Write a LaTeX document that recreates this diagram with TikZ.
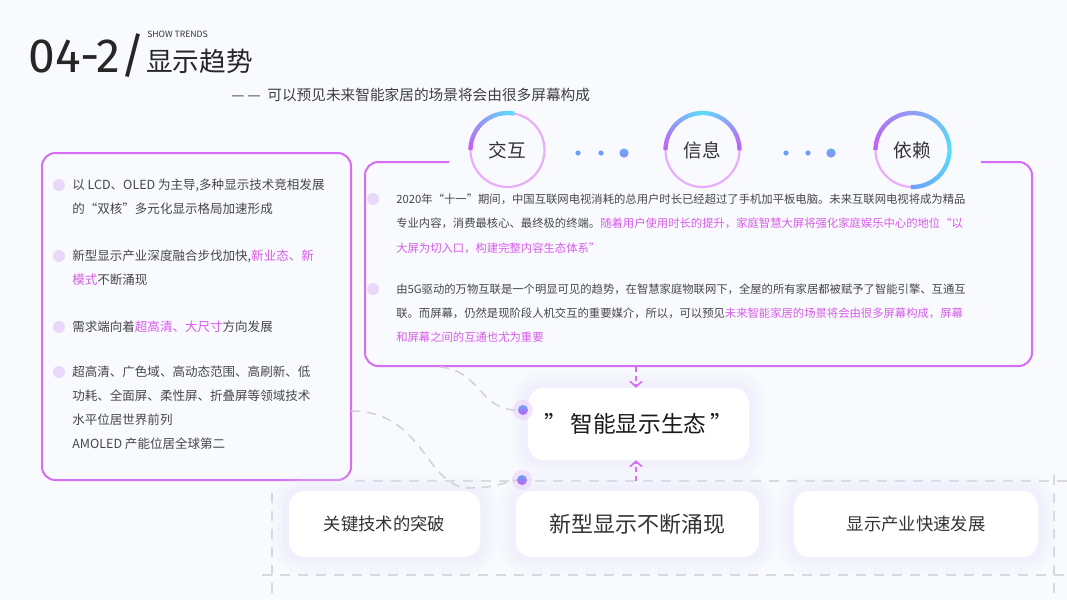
\documentclass[tikz,border=0pt]{standalone}
\usepackage{fontspec}
\setmainfont{Noto Sans CJK SC}
\newfontfamily\numfont{Fira Sans}
\usetikzlibrary{arrows.meta,calc,positioning}

\definecolor{bgc}{RGB}{249,250,254}
\definecolor{linec}{RGB}{214,110,245}
\definecolor{txtc}{RGB}{70,70,76}
\definecolor{hlc}{RGB}{214,92,232}
\definecolor{dotc}{RGB}{234,216,250}
\definecolor{dashc}{RGB}{216,217,224}
\definecolor{linkc}{RGB}{208,208,213}
\definecolor{ringbase}{RGB}{232,172,250}
\definecolor{ringp}{RGB}{196,96,240}
\definecolor{ringc}{RGB}{88,222,250}
\definecolor{ringb}{RGB}{108,160,248}
\definecolor{glowc}{RGB}{228,233,252}
\newcommand{\hlt}[1]{\textcolor{hlc}{#1}}

\tikzset{
  txt/.style={anchor=west,inner sep=0pt,text=txtc,font=\fontsize{9.4}{11}\selectfont},
  rtxt/.style={txt,font=\fontsize{8.5}{10}\selectfont},
  bullet/.style={circle,fill=dotc,minimum size=9pt,inner sep=0pt},
  card/.style={rounded corners=12pt,fill=white,inner sep=0pt,text=black!80,
    preaction={draw=glowc,line width=26pt,opacity=0.12},
    preaction={draw=glowc,line width=18pt,opacity=0.15},
    preaction={draw=glowc,line width=10pt,opacity=0.2}},
  frame/.style={draw=linec,line width=1.5pt,rounded corners=10pt},
  griddash/.style={draw=dashc,line width=1.2pt,dash pattern=on 7.5pt off 6pt},
  link/.style={draw=linkc,line width=1.1pt,dash pattern=on 7pt off 5pt},
  flow/.style={draw=linec,line width=1.2pt,dash pattern=on 4pt off 2.5pt,
    -{Straight Barb[length=4pt,width=9pt]}},
  ring/.style={circle,draw=ringbase,line width=1.6pt,fill=bgc,minimum size=55.5pt,
    inner sep=0pt,text=black!80,font=\fontsize{14}{16}\selectfont},
  glowdot/.style={circle,minimum size=7.5pt,inner sep=0pt,top color=ringb,bottom color=ringp,
    preaction={draw=ringp!35,line width=8pt,opacity=0.45}},
}

\begin{document}
\begin{tikzpicture}[x=0.75pt,y=-0.75pt,line join=round]
\useasboundingbox (0,0) rectangle (1067,600);
\fill[bgc] (0,0) rectangle (1067,600);

% heading
\node[anchor=base west,inner sep=0pt,text=black!85,font=\numfont\fontsize{36}{40}\selectfont] (num) at (28,72) {04-2/};
\node[anchor=west,inner sep=0pt,text=black!80,font=\fontsize{6.5}{8}\selectfont] (en) at (147,34) {SHOW TRENDS};
\node[anchor=west,inner sep=0pt,text=black!85,font=\fontsize{20}{22}\selectfont] (ttl) at (146,61) {显示趋势};
\node[anchor=west,inner sep=0pt,text=black!75,font=\fontsize{11}{13}\selectfont] (sub) at (231,95) {— —\ \ 可以预见未来智能家居的场景将会由很多屏幕构成};

% dashed frame at the bottom
\draw[griddash] (355,481) -- (1067,481);
\draw[griddash] (262,575) -- (1067,575);
\draw[griddash] (272,493) -- (272,600);
\draw[griddash] (1054,475) -- (1054,600);

% left box
\node[frame,fill=bgc,minimum width=231.75pt,minimum height=245.25pt] (lbox) at (196.5,316.5) {};
\foreach \y in {185,256,327,372} \node[bullet] at (59,\y) {};
\node[txt] (l1) at (72,185) {以 LCD、OLED 为主导,多种显示技术竞相发展};
\node[txt] (l2) at (72,209) {的“双核”多元化显示格局加速形成};
\node[txt] (l3) at (72,256) {新型显示产业深度融合步伐加快,\hlt{新业态、新}};
\node[txt] (l4) at (72,280) {\hlt{模式}不断涌现};
\node[txt] (l5) at (72,327) {需求端向着\hlt{超高清、大尺寸}方向发展};
\node[txt] (l6) at (72,372) {超高清、广色域、高动态范围、高刷新、低};
\node[txt] (l7) at (72,396) {功耗、全面屏、柔性屏、折叠屏等领域技术};
\node[txt] (l8) at (72,420) {水平位居世界前列};
\node[txt] (l9) at (72,444) {AMOLED 产能位居全球第二};

% right box
\draw[frame] (449,162) -- (365,162) -- (365,366) -- (1032,366) -- (1032,162) -- (981,162);
\foreach \y in {199,289} \node[bullet] at (373,\y) {};
\node[rtxt] (r1) at (396,199) {2020年“十一”期间，中国互联网电视消耗的总用户时长已经超过了手机加平板电脑。未来互联网电视将成为精品};
\node[rtxt] (r2) at (396,223) {专业内容，消费最核心、最终极的终端。\hlt{随着用户使用时长的提升，家庭智慧大屏将强化家庭娱乐中心的地位“以}};
\node[rtxt] (r3) at (396,248) {\hlt{大屏为切入口，构建完整内容生态体系”}};
\node[rtxt] (r4) at (396,289) {由5G驱动的万物互联是一个明显可见的趋势，在智慧家庭物联网下，全屋的所有家居都被赋予了智能引擎、互通互};
\node[rtxt] (r5) at (396,313) {联。而屏幕，仍然是现阶段人机交互的重要媒介，所以，可以预见\hlt{未来智能家居的场景将会由很多屏幕构成，屏幕}};
\node[rtxt] (r6) at (396,337) {\hlt{和屏幕之间的互通也尤为重要}};

% rings
\node[ring] (hu) at (507.5,150) {交互};
\node[ring] (xx) at (702.5,150) {信息};
\node[ring] (yl) at (912.5,150) {依赖};
\foreach \a in {180,184,...,276} {
  \pgfmathsetmacro\p{min(100,(\a-180)/96*100)}
  \draw[line width=3.2pt,ringc!\p!ringp] ($(hu)+(\a:37)$) arc[start angle=\a,end angle=\a+4.6,radius=37];
}
\foreach \a in {180,184,...,356} {
  \pgfmathsetmacro\p{100-abs(\a+2-270)/90*100}
  \draw[line width=3.2pt,ringc!\p!ringp] ($(xx)+(\a:37)$) arc[start angle=\a,end angle=\a+4.6,radius=37];
}
\foreach \a in {180,184,...,356} {
  \pgfmathsetmacro\p{(\a-180)/180*100}
  \draw[line width=3.2pt,ringc!\p!ringp] ($(yl)+(\a:37)$) arc[start angle=\a,end angle=\a+4.6,radius=37];
}
\foreach \a in {360,364,...,448} {
  \pgfmathsetmacro\p{(\a-360)/90*100}
  \draw[line width=3.2pt,ringb!\p!ringc] ($(yl)+(\a:37)$) arc[start angle=\a,end angle=\a+4.6,radius=37];
}
\foreach \x in {578,601,786,808} \fill[ringb] (\x,153) circle[radius=2.6];
\foreach \x in {624,831} \shade[top color=ringb!80!ringc,bottom color=ringb!70!ringp] (\x,153) circle[radius=4.6];

% centre and bottom cards
\node[card,minimum width=165.75pt,minimum height=54pt,font=\fontsize{17}{19}\selectfont,text=black!90] (eco) at (638.5,424) {”\,智能显示生态\,”};
\node[card,minimum width=143.25pt,minimum height=49.5pt,font=\fontsize{13}{15}\selectfont] (key) at (384.5,524) {关键技术的突破};
\node[card,minimum width=182.25pt,minimum height=49.5pt,font=\fontsize{16.5}{18}\selectfont] (newd) at (637.5,524) {新型显示不断涌现};
\node[card,minimum width=183pt,minimum height=49.5pt,font=\fontsize{13}{15}\selectfont] (indus) at (916,524) {显示产业快速发展};

% links
\node[glowdot] (d1) at (523,410) {};
\node[glowdot] (d2) at (522,480) {};
\coordinate (c1) at (440,367);
\coordinate (c2) at (351,411);
\draw[link] (c1) .. controls (480,370) and (480,411) .. (d1.west);
\draw[link] (c2) .. controls (425,411) and (425,488) .. (470,488) .. controls (495,488) and (505,482) .. (d2.west);

% arrows into the centre card
\coordinate (rb) at (636,367);
\coordinate (hb) at (636,481);
\draw[flow] (rb) -- (rb |- eco.north);
\draw[flow] (hb) -- (hb |- eco.south);
\end{tikzpicture}
\end{document}
